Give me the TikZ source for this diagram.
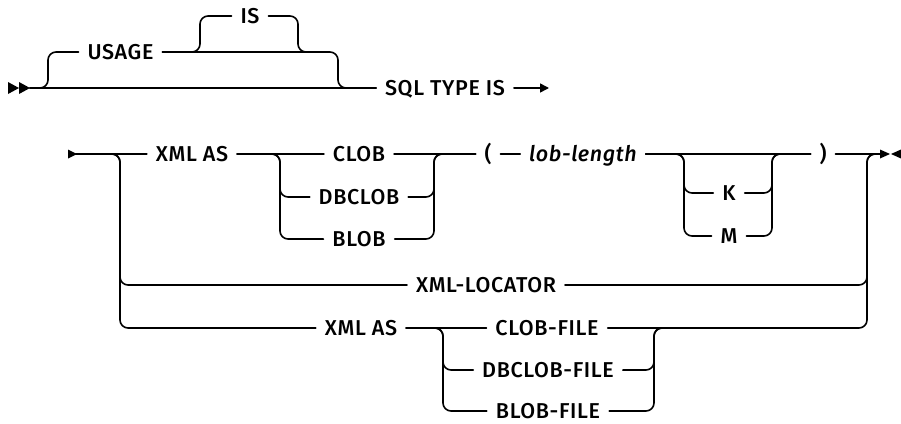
\documentclass[tikz,border=0pt]{standalone}
\usepackage{fontspec}
\setmainfont{Fira Sans Medium}[ItalicFont={Fira Sans Medium Italic},LetterSpace=3]
\usetikzlibrary{arrows.meta}

\begin{document}
\begin{tikzpicture}[x=1pt,y=-1pt,line width=1.6pt,line cap=round,
  kw/.style={inner sep=0pt,outer sep=9pt,text height=14.8pt,text depth=0pt,font=\fontsize{21.5}{24}\selectfont},
  rr/.style={rounded corners=8pt},
  >={Triangle[length=9pt,width=9pt]}]
\useasboundingbox (0,0) rectangle (901,423);
% first part: USAGE IS
\node[kw] (usage) at (120.5,52) {USAGE};
\node[kw] (is) at (250,16) {IS};
\node[kw] (sql) at (445,88) {SQL TYPE IS};
\coordinate (m0) at (30,88);
\coordinate (uL) at (48,52);
\coordinate (uR) at (338,52);
\coordinate (uM) at (318,52);
\coordinate (iL) at (200,16);
\coordinate (iR) at (298,52);
\coordinate (a1) at (549,88);
\fill (8,82) -- (19,88) -- (8,94) -- cycle;
\fill (19,82) -- (30,88) -- (19,94) -- cycle;
\draw (m0) -- (sql.west);
\draw[rr] (m0) -| (uL) -- (usage.west);
\draw[rr] (usage.east) -- (uR) |- (sql.west);
\draw[rr] (usage.east) -| (iL) -- (is.west);
\draw[rr] (is.east) -| (iR) -- (uM);
\draw[->] (sql.east) -- (a1);
% second part: XML types
\node[kw] (xmlA) at (192,154) {XML AS};
\node[kw] (clob) at (359,154) {CLOB};
\node[kw] (dbclob) at (359,197) {DBCLOB};
\node[kw] (blob) at (359,239) {BLOB};
\node[kw] (lpar) at (488,154) {(};
\node[kw] (len) at (583,154) {\itshape lob-length};
\node[kw] (k) at (729,193) {K};
\node[kw] (m) at (729,236) {M};
\node[kw] (rpar) at (823,154) {)};
\node[kw] (loc) at (486,285) {XML-LOCATOR};
\node[kw] (xmlB) at (361,328) {XML AS};
\node[kw] (fclob) at (547,328) {CLOB-FILE};
\node[kw] (fdb) at (548,370) {DBCLOB-FILE};
\node[kw] (fblob) at (548,411) {BLOB-FILE};
\coordinate (s2) at (76,154);
\coordinate (lL) at (120,285);
\coordinate (fL) at (120,328);
\coordinate (cL1) at (280,197);
\coordinate (cL2) at (280,239);
\coordinate (cR) at (434,154);
\coordinate (kL) at (684,193);
\coordinate (mL) at (684,236);
\coordinate (kR) at (772,154);
\coordinate (bR) at (867,154);
\coordinate (e2) at (880,154);
\coordinate (fL1) at (443,370);
\coordinate (fL2) at (443,411);
\coordinate (fR) at (654,328);
\coordinate (fM) at (690,328);
\fill (68,149.5) -- (77,154) -- (68,158.5) -- cycle;
\fill (880,149.5) -- (890,154) -- (880,158.5) -- cycle;
\fill (901,149.5) -- (891,154) -- (901,158.5) -- cycle;
\draw (s2) -- (xmlA.west);
\draw[rr] (s2) -| (lL) -- (loc.west);
\draw[rr] (s2) -| (fL) -- (xmlB.west);
\draw (xmlA.east) -- (clob.west);
\draw[rr] (xmlA.east) -| (cL1) -- (dbclob.west);
\draw[rr] (xmlA.east) -| (cL2) -- (blob.west);
\draw (clob.east) -- (lpar.west);
\draw[rr] (dbclob.east) -| (cR) -- (lpar.west);
\draw[rr] (blob.east) -| (cR) -- (lpar.west);
\draw (lpar.east) -- (len.west);
\draw (len.east) -- (rpar.west);
\draw[rr] (len.east) -| (kL) -- (k.west);
\draw[rr] (len.east) -| (mL) -- (m.west);
\draw[rr] (k.east) -| (kR) -- (rpar.west);
\draw[rr] (m.east) -| (kR) -- (rpar.west);
\draw (rpar.east) -- (e2);
\draw[rr] (loc.east) -| (bR) -- (e2);
\draw (xmlB.east) -- (fclob.west);
\draw[rr] (xmlB.east) -| (fL1) -- (fdb.west);
\draw[rr] (xmlB.east) -| (fL2) -- (fblob.west);
\draw[rr] (fclob.east) -| (bR) -- (e2);
\draw[rr] (fdb.east) -| (fR) -- (fM);
\draw[rr] (fblob.east) -| (fR) -- (fM);
\end{tikzpicture}
\end{document}
